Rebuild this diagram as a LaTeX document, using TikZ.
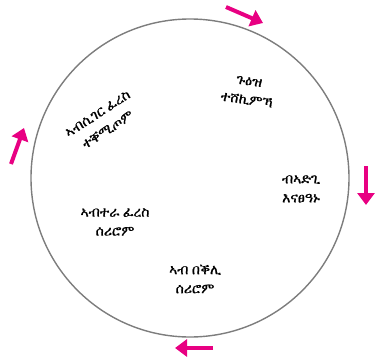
\documentclass[tikz,border=0pt]{standalone}
\usepackage{fontspec}
\IfFontExistsTF{FreeSerif}{\newfontfamily\ethfont[FakeBold=0.8]{FreeSerif}}{%
  \IfFontExistsTF{Abyssinica SIL}{\newfontfamily\ethfont[FakeBold=0.8]{Abyssinica SIL}}{\newfontfamily\ethfont{DejaVu Sans}}}
\usetikzlibrary{arrows.meta}
\definecolor{mag}{RGB}{232,0,130}
\definecolor{ring}{RGB}{125,125,125}
\tikzset{
  lbl/.style={font=\ethfont\fontsize{14}{19}\selectfont, align=center, text=black},
  marr/.style={draw=mag, line width=4pt, -{Triangle[length=12pt,width=17pt]}}
}
\begin{document}
\begin{tikzpicture}[x=1pt,y=-1pt]
\useasboundingbox (0,0) rectangle (378,359);
\node[draw=ring, line width=1.4pt, circle, minimum size=318pt, inner sep=0pt] (ring) at (190,178) {};
\node[lbl, rotate=-8] (t1) at (248,91) {ጉዕዝ\\ተሸኪምኻ};
\node[lbl] (t2) at (301,189) {ብኣድጊ\\እናፀዓኑ};
\node[lbl] (t3) at (195,279) {ኣብ በቕሊ\\ሰሪሮም};
\node[lbl] (t4) at (115,222) {ኣብተራ ፈረስ\\ሰሪሮም};
\node[lbl, rotate=33] (t5) at (103,122) {ኣብሲገር ፈረስ\\ተቐሚጦም};
\coordinate (a1s) at (226,7); \coordinate (a1e) at (263,23);
\coordinate (a2s) at (366,166); \coordinate (a2e) at (366,205);
\coordinate (a3s) at (213,348); \coordinate (a3e) at (175,348);
\coordinate (a4s) at (11,164); \coordinate (a4e) at (24,128);
\draw[marr] (a1s) -- (a1e);
\draw[marr] (a2s) -- (a2e);
\draw[marr] (a3s) -- (a3e);
\draw[marr] (a4s) -- (a4e);
\end{tikzpicture}
\end{document}
